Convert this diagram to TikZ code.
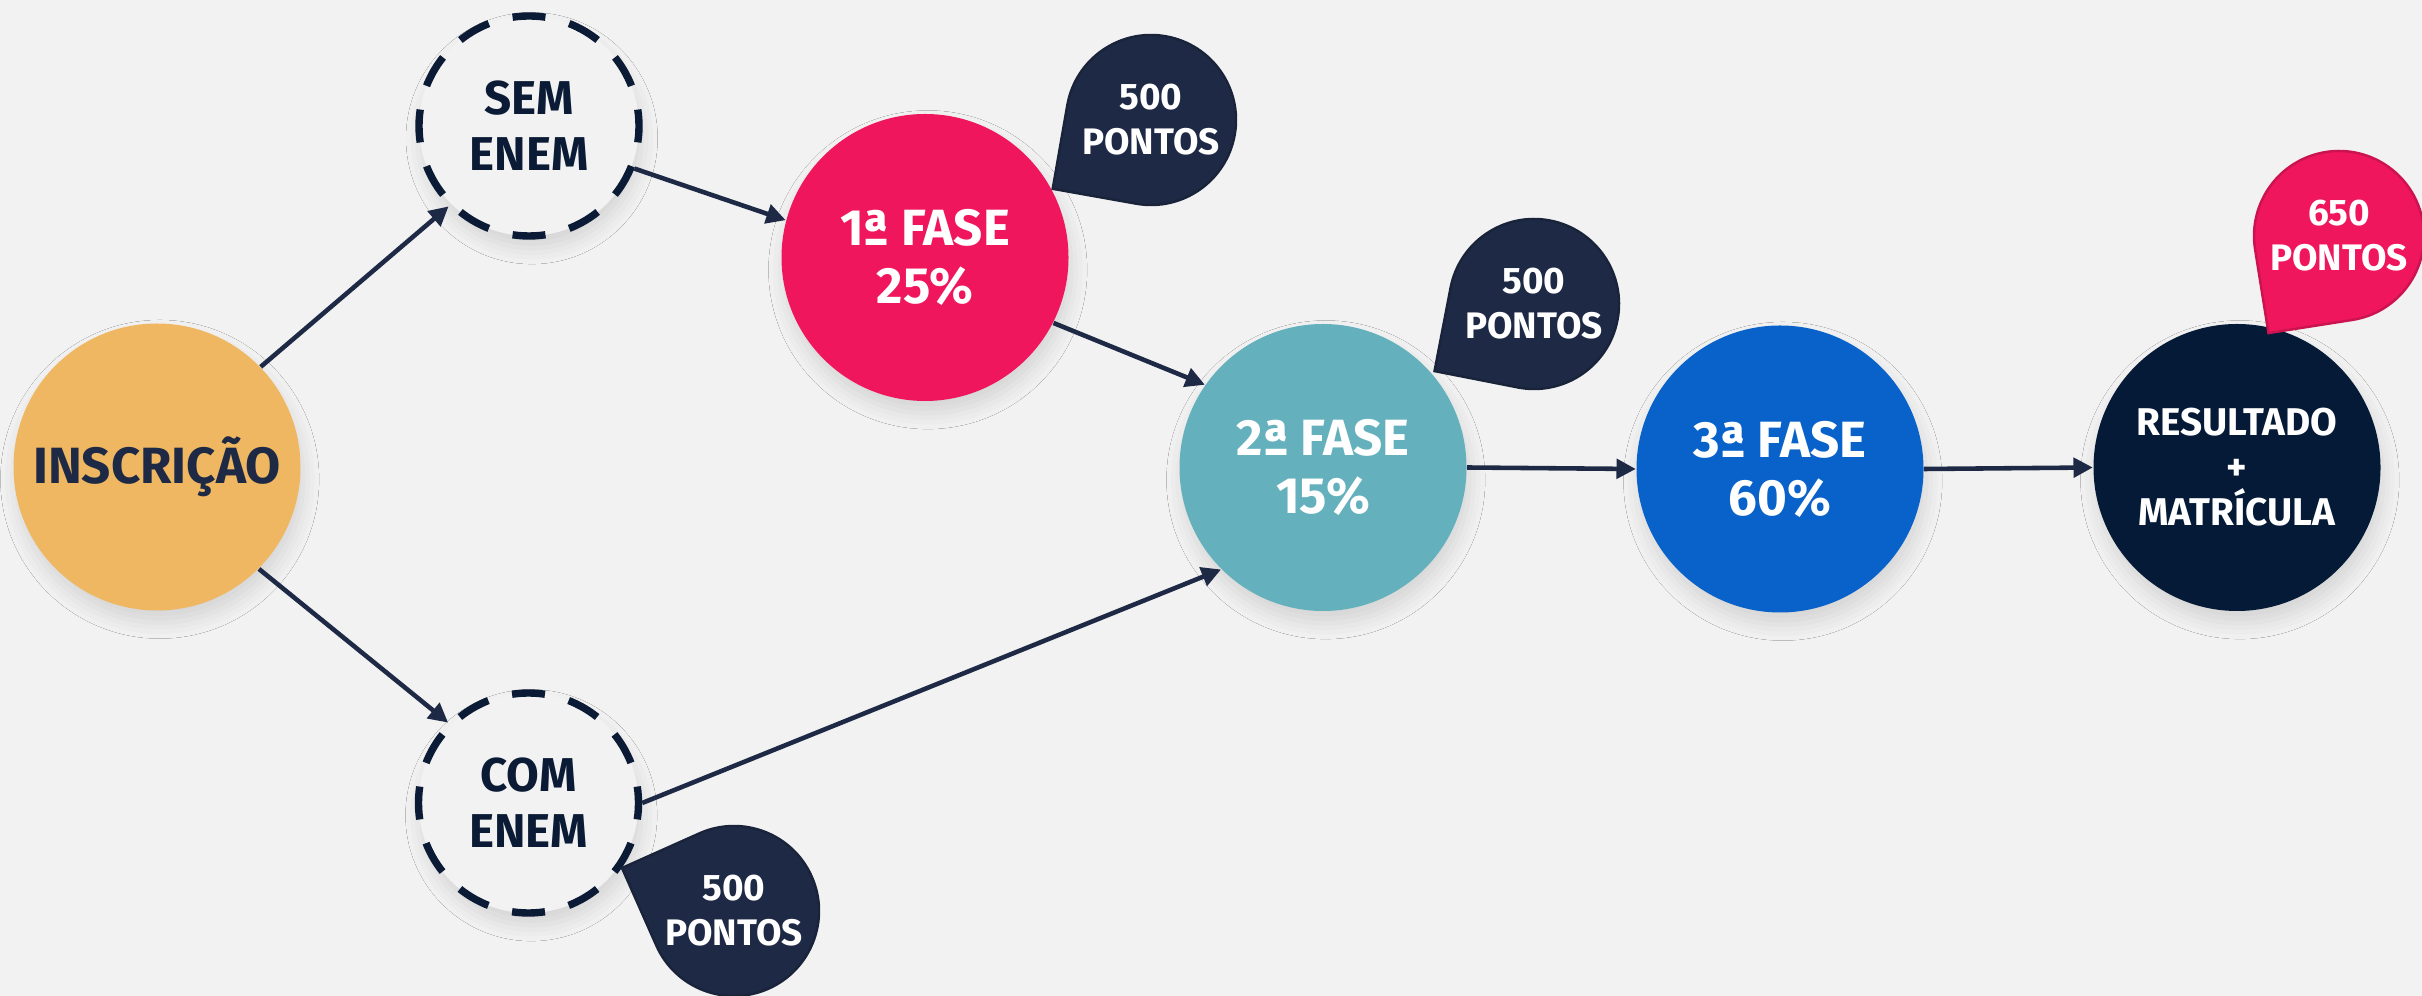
\documentclass[tikz,border=0pt]{standalone}
\usepackage{fontspec}
\setmainfont{Fira Sans}
\usetikzlibrary{positioning,shadows.blur,arrows.meta}

\definecolor{fundo}{HTML}{F2F2F2}
\definecolor{marinho}{HTML}{1E2A45}
\definecolor{escuro}{HTML}{041A36}
\definecolor{laranja}{HTML}{EFB762}
\definecolor{rosa}{HTML}{EF165E}
\definecolor{turquesa}{HTML}{64B1BD}
\definecolor{azul}{HTML}{0962C9}
\definecolor{tracejado}{HTML}{0B1B35}

\begin{document}
\begin{tikzpicture}

\tikzstyle{sombra} = [blur shadow={shadow xshift=0.8pt, shadow yshift=-3.5pt, shadow blur radius=4.5pt, shadow opacity=12}]
\tikzstyle{etapa} = [circle, minimum size=2.87cm, inner sep=0pt, align=center, text=white, font=\fontsize{14.5}{16.5}\selectfont\bfseries, sombra]
\tikzstyle{enem} = [etapa, minimum size=2.2cm, fill=fundo, draw=tracejado, line width=2.1pt, dash pattern=on 0.33cm off 0.246cm, dash phase=0.165cm, text=tracejado, font=\fontsize{13.5}{16}\selectfont\bfseries]
\tikzstyle{pontosbox} = [align=center, inner sep=0pt, text=white, font=\fontsize{10.5}{12.8}\selectfont\bfseries]
\tikzstyle{seta} = [draw=marinho, line width=1.3pt, -{Triangle[length=5.5pt,width=5.5pt]}]

\newcommand{\pontos}[5]{%
    \path[fill=#4, draw=#4!85!black, line width=0.7pt, shift={#2}, rotate=#3]
      (1.2,0) -- (45:0.85) arc[start angle=45, end angle=315, radius=0.85] -- cycle;
    \node (#1) [pontosbox] at #2 {#5};}

\path[use as bounding box, fill=fundo] (0,0) rectangle (24.22,9.96);

\node (insc) [etapa, fill=laranja, text=marinho] at (1.57,5.29) {INSCRIÇÃO};
\node (sem) [enem] at (5.29,8.70) {SEM\\ENEM};
\node (com) [enem] at (5.285,1.93) {COM\\ENEM};
\node (f1) [etapa, fill=rosa] at (9.25,7.385) {1ª FASE\\25\%};
\node (f2) [etapa, fill=turquesa] at (13.23,5.285) {2ª FASE\\15\%};
\node (f3) [etapa, fill=azul] at (17.80,5.27) {3ª FASE\\60\%};
\node (res) [etapa, fill=escuro, font=\fontsize{11}{12.8}\selectfont\bfseries] at (22.37,5.285) {RESULTADO\\+\\MATRÍCULA};

\pontos{p1}{(11.51,8.76)}{215}{marinho}{500\\PONTOS}
\pontos{p2}{(15.34,6.92)}{214}{marinho}{500\\PONTOS}
\pontos{p3}{(7.34,0.85)}{159}{marinho}{500\\PONTOS}
\pontos{p4}{(23.39,7.60)}{234}{rosa}{650\\PONTOS}

\draw[seta] (insc.44) -- (sem.225);
\draw[seta] (insc.-45) -- (com.135);
\draw[seta] (sem.-22) -- (f1.165);
\draw[seta] (f1.-27) -- (f2.145);
\draw[seta] (com.0) -- (f2.225);
\draw[seta] (f2.0) -- (f3.180);
\draw[seta] (f3.0) -- (res.180);

\end{tikzpicture}
\end{document}
